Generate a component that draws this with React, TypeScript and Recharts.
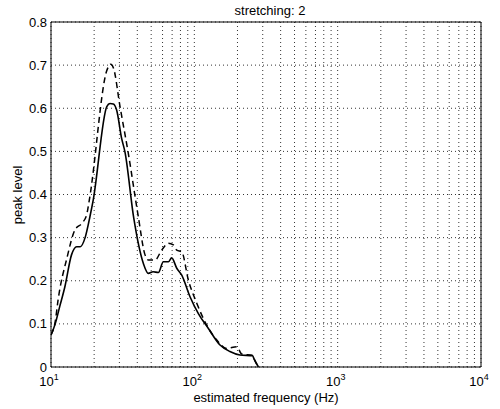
import { LineChart, Line, XAxis, YAxis, CartesianGrid, ReferenceLine } from "recharts";

// solid curve
const freqSolid = [10, 10.7, 11.5, 12.5, 13.9, 15.1, 16.0, 17.3, 18.7, 19.7, 24.5, 25.8, 27.2, 28.7, 31.1, 32.8, 37.8, 44.1, 47.8, 51.5, 56.1, 60.8, 65.9, 69.5, 75.4, 81.7, 93.3, 106.7, 125, 151, 177, 208, 255, 260, 280];
const levelSolid = [0.074, 0.1, 0.14, 0.186, 0.26, 0.279, 0.279, 0.3, 0.349, 0.387, 0.604, 0.611, 0.61, 0.596, 0.53, 0.499, 0.345, 0.24, 0.217, 0.221, 0.219, 0.244, 0.244, 0.253, 0.229, 0.213, 0.163, 0.124, 0.09, 0.051, 0.036, 0.028, 0.026, 0.02, 0];

// dashed curve
const freqDashed = [10, 10.7, 11.2, 12.9, 14.7, 16.4, 17.7, 18.5, 24.6, 26.1, 27.3, 30.3, 34.6, 40.5, 45.3, 47.8, 53.2, 59.2, 65.9, 71.4, 75.4, 81.7, 90.8, 104, 122, 143, 168, 198, 214, 255, 260, 280];
const levelDashed = [0.075, 0.105, 0.155, 0.252, 0.318, 0.333, 0.352, 0.387, 0.689, 0.702, 0.693, 0.604, 0.496, 0.352, 0.26, 0.248, 0.248, 0.271, 0.287, 0.283, 0.271, 0.267, 0.202, 0.148, 0.097, 0.063, 0.043, 0.047, 0.03, 0.027, 0.02, 0];

const yTicks = [0, 0.1, 0.2, 0.3, 0.4, 0.5, 0.6, 0.7, 0.8];
const decades = [10, 100, 1000];
const multipliers = [1, 2, 3, 4, 5, 6, 7, 8, 9];

const xTicks = [...decades.flatMap((d) => multipliers.map((m) => d * m)), 10000];
const solidData = freqSolid.map((f, i) => ({ f, v: levelSolid[i] }));
const dashedData = freqDashed.map((f, i) => ({ f, v: levelDashed[i] }));

const font = '"Liberation Sans", Arial, Helvetica, sans-serif';

const LogTick = (props: any) => {
  const { x, y, payload } = props;
  const lg = Math.log10(payload.value);
  const e = Math.round(lg);
  if (Math.abs(lg - e) > 1e-6) return <g />;
  return (
    <text x={x - 2} y={y + 19} textAnchor="middle" fontSize={13} fontFamily={font} fill="#000">
      10
      <tspan dy={-6} fontSize={9}>
        {e}
      </tspan>
    </text>
  );
};

export default function App() {
  return (
    <div style={{ position: "absolute", left: 0, top: 0, width: 500, height: 409, background: "#fff", fontFamily: font, color: "#000" }}>
      <LineChart width={500} height={409} margin={{ top: 22, right: 19, bottom: 0, left: 0 }}>
        <CartesianGrid stroke="#000" strokeDasharray="1 3" strokeWidth={0.8} />
        <XAxis
          type="number"
          dataKey="f"
          scale="log"
          domain={[10, 10000]}
          ticks={xTicks}
          interval={0}
          allowDataOverflow
          height={42}
          tickLine={false}
          tickSize={0}
          tickMargin={0}
          tick={<LogTick />}
          axisLine={{ stroke: "#000", strokeWidth: 1 }}
        />
        <YAxis
          type="number"
          domain={[0, 0.8]}
          ticks={yTicks}
          interval={0}
          width={51}
          tickLine={false}
          tickSize={0}
          tickMargin={4}
          tick={{ fill: "#000", fontSize: 13, fontFamily: font }}
          axisLine={{ stroke: "#000", strokeWidth: 1 }}
        />
        <ReferenceLine y={0.8} stroke="#000" strokeWidth={1} />
        <ReferenceLine x={10000} stroke="#000" strokeWidth={1} />
        <Line data={dashedData} dataKey="v" type="monotone" stroke="#000" strokeWidth={1.5} strokeDasharray="6 4" dot={false} isAnimationActive={false} />
        <Line data={solidData} dataKey="v" type="monotone" stroke="#000" strokeWidth={1.6} dot={false} isAnimationActive={false} />
      </LineChart>
      <div style={{ position: "absolute", left: 270, top: 10, transform: "translate(-50%, -50%)", fontSize: 13, whiteSpace: "nowrap" }}>
        stretching: 2
      </div>
      <div style={{ position: "absolute", left: 266, top: 397, transform: "translate(-50%, -50%)", fontSize: 13, whiteSpace: "nowrap" }}>
        estimated frequency (Hz)
      </div>
      <div style={{ position: "absolute", left: 17, top: 195, transform: "translate(-50%, -50%) rotate(-90deg)", fontSize: 13, whiteSpace: "nowrap" }}>
        peak level
      </div>
    </div>
  );
}
